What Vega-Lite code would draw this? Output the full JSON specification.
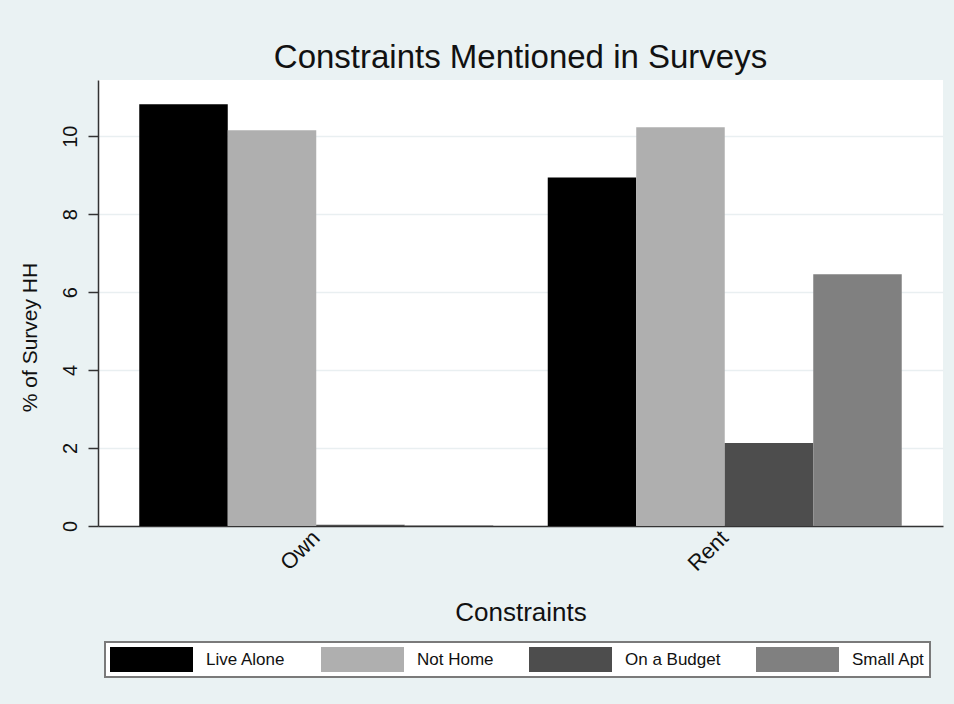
{
  "$schema": "https://vega.github.io/schema/vega-lite/v6.json",
  "width": 845,
  "height": 446,
  "autosize": {"type": "none"},
  "padding": {"left": 98, "top": 80, "right": 11, "bottom": 178},
  "background": "#eaf2f3",
  "title": {
    "text": "Constraints Mentioned in Surveys",
    "font": "Liberation Sans",
    "fontSize": 33,
    "fontWeight": "normal",
    "color": "#111111",
    "anchor": "middle",
    "baseline": "alphabetic",
    "offset": 11,
    "dy": 32
  },
  "data": {
    "values": [
      {"tenure": "Own", "constraint": "Live Alone", "pct": 10.82},
      {"tenure": "Own", "constraint": "Not Home", "pct": 10.15},
      {"tenure": "Own", "constraint": "On a Budget", "pct": 0.03},
      {"tenure": "Own", "constraint": "Small Apt", "pct": 0.02},
      {"tenure": "Rent", "constraint": "Live Alone", "pct": 8.94},
      {"tenure": "Rent", "constraint": "Not Home", "pct": 10.23},
      {"tenure": "Rent", "constraint": "On a Budget", "pct": 2.13},
      {"tenure": "Rent", "constraint": "Small Apt", "pct": 6.46}
    ]
  },
  "mark": {"type": "bar", "strokeWidth": 0},
  "encoding": {
    "x": {
      "field": "tenure",
      "type": "nominal",
      "title": "Constraints",
      "scale": {"paddingInner": 0.1334, "paddingOuter": 0.101},
      "axis": {
        "labelAngle": -45,
        "labelAlign": "right",
        "labelBaseline": "middle",
        "labelPadding": 8,
        "labelFont": "Liberation Sans",
        "labelFontSize": 22,
        "labelColor": "#111111",
        "ticks": false,
        "domainColor": "#333333",
        "domainWidth": 1.5,
        "titleFont": "Liberation Sans",
        "titleFontSize": 26,
        "titleFontWeight": "normal",
        "titleColor": "#111111",
        "titleY": 73,
        "titleBaseline": "top"
      }
    },
    "xOffset": {
      "field": "constraint",
      "type": "nominal",
      "scale": {"paddingInner": 0, "paddingOuter": 0}
    },
    "y": {
      "field": "pct",
      "type": "quantitative",
      "title": "% of Survey HH",
      "scale": {"domain": [0, 11.44], "nice": false, "zero": true},
      "axis": {
        "values": [0, 2, 4, 6, 8, 10],
        "labelAngle": -90,
        "labelAlign": "center",
        "labelBaseline": "bottom",
        "labelPadding": 8,
        "labelFont": "Liberation Sans",
        "labelFontSize": 20,
        "labelColor": "#111111",
        "tickSize": 10,
        "tickColor": "#333333",
        "tickWidth": 1.5,
        "domainColor": "#333333",
        "domainWidth": 1.5,
        "grid": true,
        "gridColor": "#e9eff1",
        "gridWidth": 1.5,
        "titleFont": "Liberation Sans",
        "titleFontSize": 21,
        "titleFontWeight": "normal",
        "titleColor": "#111111",
        "titleAngle": -90,
        "titleAlign": "center",
        "titleBaseline": "middle",
        "titleX": -68,
        "titleY": 257
      }
    },
    "color": {
      "field": "constraint",
      "type": "nominal",
      "scale": {
        "domain": ["Live Alone", "Not Home", "On a Budget", "Small Apt"],
        "range": ["#000000", "#afafaf", "#4d4d4d", "#808080"]
      },
      "legend": {
        "title": null,
        "orient": "none",
        "legendX": 7,
        "legendY": 562,
        "direction": "horizontal",
        "columns": 4,
        "columnPadding": 35,
        "padding": 5,
        "fillColor": "#ffffff",
        "strokeColor": "#7a7a7a",
        "symbolType": "M-1,-1H5.64V1H-1Z",
        "symbolSize": 625,
        "symbolStrokeWidth": 0,
        "symbolOpacity": 1,
        "labelFont": "Liberation Sans",
        "labelFontSize": 17,
        "labelColor": "#111111",
        "labelOffset": 71,
        "labelLimit": 200
      }
    }
  },
  "config": {
    "view": {"fill": "#ffffff", "stroke": null},
    "legend": {"strokeWidth": 2}
  }
}
